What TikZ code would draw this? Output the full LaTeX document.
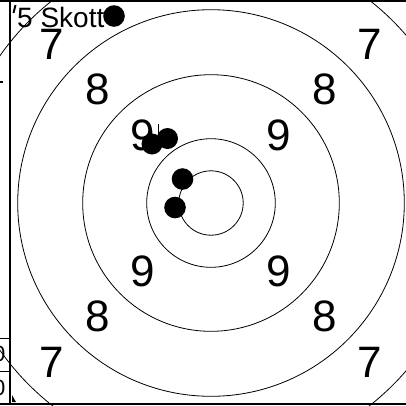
\documentclass[tikz,border=0pt]{standalone}
\usepackage{fontspec}
\setmainfont{Liberation Sans}
\usetikzlibrary{calc}
\begin{document}
\begin{tikzpicture}[x=1pt,y=-1pt,
  ring/.style={draw=black,line width=0.8pt},
  frameline/.style={draw=black,line width=2pt},
  shot/.style={fill=black},
  score/.style={inner sep=0pt,font=\fontsize{44}{44}\selectfont},
  tablenum/.style={inner sep=0pt,anchor=east,font=\fontsize{22}{22}\selectfont}]
\useasboundingbox (0,0) rectangle (406,405);
\clip (0,0) rectangle (406,405);
\fill[white] (0,0) rectangle (406,405);
\coordinate (c) at (211,203);
% rings
\foreach \r in {32.2,64.3,128.3,193.3,257.3}
  \draw[ring] (c) circle[radius=\r];
% scores
\foreach \d/\t in {68/9,113.5/8,159/7}{
  \node[score] at ($(c)+(-\d,-\d)$) {\t};
  \node[score] at ($(c)+(\d,-\d)$) {\t};
  \node[score] at ($(c)+(-\d,\d)$) {\t};
  \node[score] at ($(c)+(\d,\d)$) {\t};
}
% title
\node[inner sep=0pt,anchor=base west,font=\fontsize{28}{28}\selectfont] (title) at (17,27) {5 Skott};
% shots
\fill[shot] (114,16) circle[radius=10.8];
\fill[shot] (152,144) circle[radius=10.5];
\fill[shot] (167.5,138.5) circle[radius=10.5];
\fill[shot] (182.5,179) circle[radius=10.8];
\fill[shot] (175,207.5) circle[radius=10.8];
\draw[line width=0.8pt] (158,124) -- (158,134);
% frame
\draw[frameline] (0,1) -- (406,1);
\draw[frameline] (0,403.5) -- (406,403.5);
\draw[frameline] (10,0) -- (10,405);
\draw[line width=1pt] (0,338) -- (10,338);
\draw[line width=1pt] (0,371) -- (10,371);
\node[tablenum] (z1) at (5.5,354) {0};
\node[tablenum] (z2) at (5.5,388) {0};
\draw[line width=1.5pt] (0,82) -- (3,82);
\draw[line width=2pt] (15.5,5) -- (13.5,13);
\fill (12,395) -- (16,402) -- (12,402) -- cycle;
\end{tikzpicture}
\end{document}
